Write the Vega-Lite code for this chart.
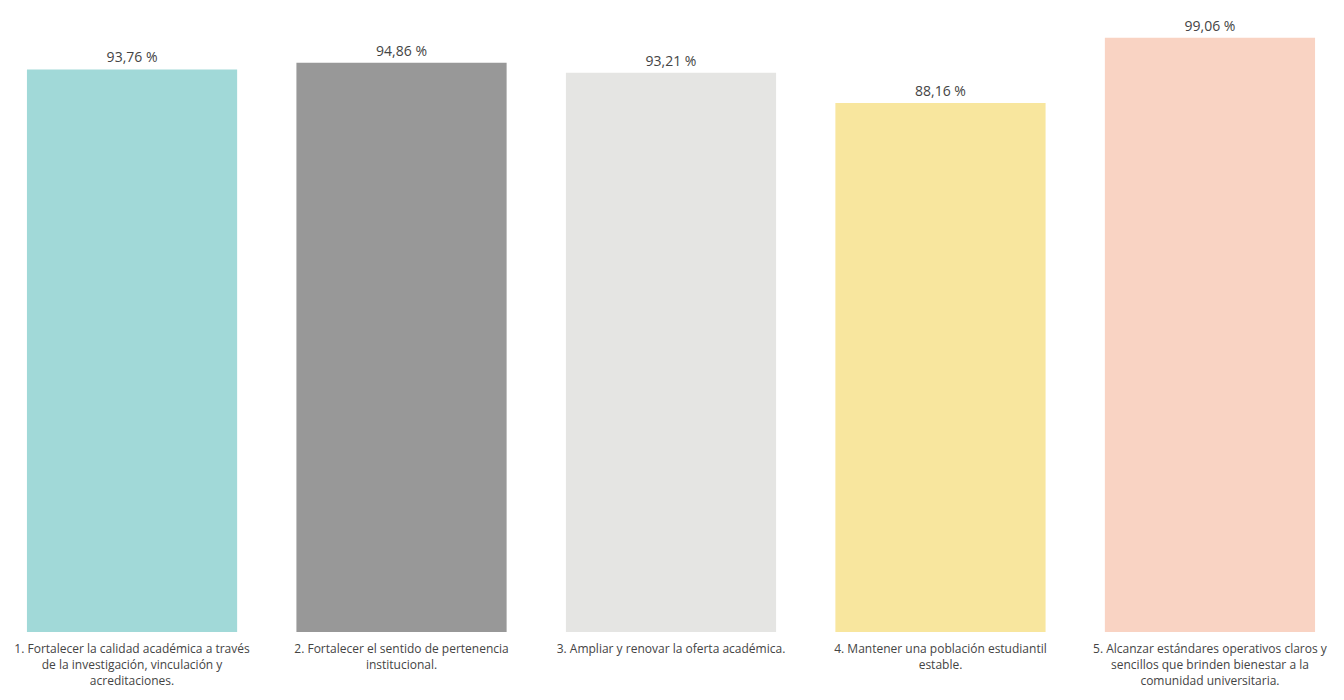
{
  "$schema": "https://vega.github.io/schema/vega-lite/v6.json",
  "width": 1342,
  "height": 600,
  "autosize": {"type": "none"},
  "padding": {"left": 0, "top": 32, "right": 2, "bottom": 68},
  "background": "white",
  "config": {"view": {"stroke": null}, "font": "Open Sans"},
  "data": {
    "values": [
      {"objetivo": "1. Fortalecer la calidad académica a través|de la investigación, vinculación y|acreditaciones.", "valor": 93.76, "etiqueta": "93,76 %", "color": "#A1D9D8"},
      {"objetivo": "2. Fortalecer el sentido de pertenencia|institucional.", "valor": 94.86, "etiqueta": "94,86 %", "color": "#989898"},
      {"objetivo": "3. Ampliar y renovar la oferta académica.", "valor": 93.21, "etiqueta": "93,21 %", "color": "#E5E5E3"},
      {"objetivo": "4. Mantener una población estudiantil|estable.", "valor": 88.16, "etiqueta": "88,16 %", "color": "#F8E69E"},
      {"objetivo": "5. Alcanzar estándares operativos claros y|sencillos que brinden bienestar a la|comunidad universitaria.", "valor": 99.06, "etiqueta": "99,06 %", "color": "#F9D3C3"}
    ]
  },
  "encoding": {
    "x": {
      "field": "objetivo",
      "type": "nominal",
      "sort": null,
      "scale": {"paddingInner": 0.22, "paddingOuter": 0.1},
      "axis": {
        "title": null,
        "labelAngle": 0,
        "labelLimit": 400,
        "labelExpr": "split(datum.label, '|')",
        "labelFontSize": 12,
        "labelColor": "#444444",
        "labelLineHeight": 16,
        "labelPadding": 11,
        "domain": false,
        "ticks": false,
        "grid": false
      }
    },
    "y": {
      "field": "valor",
      "type": "quantitative",
      "scale": {"domain": [0, 100], "nice": false},
      "axis": null
    }
  },
  "layer": [
    {
      "mark": {"type": "bar"},
      "encoding": {
        "color": {"field": "color", "type": "nominal", "scale": null, "legend": null}
      }
    },
    {
      "mark": {"type": "text", "baseline": "bottom", "dy": -4, "fontSize": 14, "color": "#444444"},
      "encoding": {"text": {"field": "etiqueta"}}
    }
  ]
}
